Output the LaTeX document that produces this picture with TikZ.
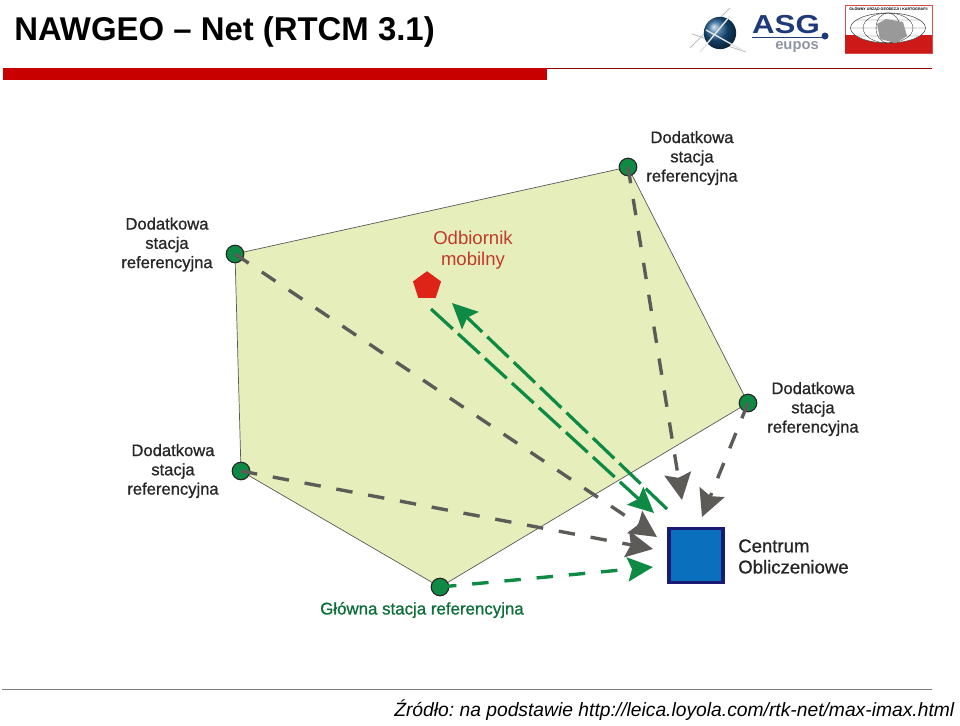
\documentclass[tikz,border=0pt]{standalone}
\usepackage{fontspec}
\usetikzlibrary{positioning,arrows.meta,shapes.geometric}
\setmainfont{Liberation Sans}
\newfontfamily\lblfont[FakeBold=0.9]{Liberation Sans}
\definecolor{areagreen}{HTML}{E6EFBC}
\definecolor{stagreen}{HTML}{0F8A45}
\definecolor{dashgray}{HTML}{5C5B58}
\definecolor{barred}{HTML}{C80000}
\definecolor{boxblue}{HTML}{0A70BE}
\definecolor{boxnavy}{HTML}{1B1A73}
\definecolor{oddred}{HTML}{C23A2A}
\definecolor{rovred}{HTML}{DE2318}
\definecolor{asgnavy}{HTML}{1F3A78}

\begin{document}
\begin{tikzpicture}[
  x=0.025cm, y=-0.025cm,
  >=Stealth,
  sta/.style={circle, draw=black!85, fill=stagreen, line width=0.8pt,
              minimum size=12.5pt, inner sep=0pt},
  lbl/.style={align=center, font=\lblfont\fontsize{11.8}{13.7}\selectfont, text=black!85},
  gr/.style={dashgray, line width=2.4pt, dash pattern=on 11.7pt off 11.3pt,
             arrows={-Stealth[length=19pt,width=19pt,inset=3pt]}},
  grn/.style={stagreen, line width=2.4pt, dash pattern=on 11.7pt off 11.3pt,
              arrows={-Stealth[length=18pt,width=17pt,inset=3pt]}},
  grl/.style={stagreen, line width=2.3pt, dash pattern=on 21pt off 5pt,
              arrows={-Stealth[length=18pt,width=17pt,inset=3pt]}},
]
  \useasboundingbox (0,0) rectangle (960,725);

  % header
  \node[anchor=base west, inner sep=0pt, font=\bfseries\fontsize{23.4}{28}\selectfont] (title)
        at (14,40) {NAWGEO -- Net (RTCM 3.1)};
  \fill[barred] (3,68) rectangle (547,80);
  \draw[barred!70!black, line width=0.7pt] (547,68) -- (932,68);

  % ASG logo
  \draw[gray!50, line width=0.6pt] (690,48) -- (730,8) (692,34) -- (746,52);
  \node[circle, inner sep=0pt, minimum size=23pt, ball color=asgnavy!85!cyan] (globe) at (720,33) {};
  \draw[white!80!gray, line width=1pt] (700,52) -- (730,16) (706,30) -- (742,50);
  \node[anchor=base, inner sep=0pt, xscale=1.2, text=asgnavy, font=\bfseries\fontsize{18.5}{20}\selectfont] (asg)
        at (786,33) {ASG};
  \draw[asgnavy, line width=0.7pt] (752,37) -- (824,37);
  \fill[asgnavy] (825,36) circle (3.5);
  \node[anchor=base, inner sep=0pt, text=asgnavy!35!gray!70, font=\bfseries\fontsize{10.5}{11}\selectfont] (eup)
        at (797,49) {eupos};

  % GUGiK logo
  \draw[barred!70, fill=white, line width=0.5pt] (845,5) rectangle (932,53);
  \fill[barred!90!white] (845,35) rectangle (932,53);
  \node[inner sep=0pt, font=\bfseries\fontsize{2.6}{3}\selectfont] (gug) at (888.5,9.5)
        {GŁÓWNY URZĄD GEODEZJI I KARTOGRAFII};
  \draw[black!70, fill=white, line width=0.4pt] (888,28) ellipse (37.5 and 15);
  \draw[black!70, line width=0.3pt] (888,28) ellipse (25 and 15) (888,28) ellipse (12 and 15)
        (850.5,28) -- (925.5,28) (856,20) -- (920,20) (856,36) -- (920,36);
  \fill[gray!80] (877,24) -- (886,19) -- (903,22) -- (907,36) -- (896,43) -- (880,39) -- cycle;

  % polygon and stations
  \coordinate (p1) at (628,167);
  \coordinate (p2) at (235,254);
  \coordinate (p3) at (241,471);
  \coordinate (p4) at (440,587);
  \coordinate (p5) at (748,403);
  \draw[fill=areagreen, draw=gray!70!black, line width=0.5pt] (p1) -- (p5) -- (p4) -- (p3) -- (p2) -- cycle;
  \node[sta] (s1) at (p1) {};
  \node[sta] (s2) at (p2) {};
  \node[sta] (s3) at (p3) {};
  \node[sta] (s4) at (p4) {};
  \node[sta] (s5) at (p5) {};

  % computing centre
  \node[draw=boxnavy, fill=boxblue, line width=2.6pt, minimum size=38.5pt, inner sep=0pt] (cent)
        at (696,555.5) {};

  % arrow ends
  \coordinate (e1) at (682,500);
  \coordinate (e2) at (657,537);
  \coordinate (e3) at (653,549);
  \coordinate (e4) at (653,567);
  \coordinate (e5) at (702,517);
  \coordinate (e6) at (654,513);
  \coordinate (e7) at (667,509);
  \coordinate (e8) at (452,303);
  \coordinate (e9) at (431,309);

  \draw[gr] (p1) -- (e1);
  \draw[gr] (p2) -- (e2);
  \draw[gr] (p3) -- (e3);
  \draw[gr] (p5) -- (e5);
  \draw[grn] (p4) -- (e4);
  \draw[grl] (e9) -- (e6);
  \draw[grl] (e7) -- (e8);

  % rover
  \node[regular polygon, regular polygon sides=5, fill=rovred, minimum size=21pt, inner sep=0pt] (rov)
        at (427,286) {};
  \node[align=center, text=oddred, font=\fontsize{13.2}{15}\selectfont] (rovl) at (473,250) {Odbiornik\\mobilny};

  % labels
  \node[lbl] (l1) at (692,158) {Dodatkowa\\stacja\\referencyjna};
  \node[lbl] (l2) at (167,244.5) {Dodatkowa\\stacja\\referencyjna};
  \node[lbl] (l3) at (173,471) {Dodatkowa\\stacja\\referencyjna};
  \node[lbl] (l5) at (813,409) {Dodatkowa\\stacja\\referencyjna};
  \node[lbl, align=left, anchor=west, inner sep=0pt, font=\lblfont\fontsize{13.2}{15}\selectfont] (lc)
        at (738,556.5) {Centrum\\Obliczeniowe};
  \node[lbl, text=stagreen!80!black, inner sep=0pt, font=\lblfont\fontsize{12}{14}\selectfont] (l4)
        at (422,610) {Główna stacja referencyjna};

  % footer
  \draw[gray, line width=0.7pt] (2,689) -- (932,689);
  \node[anchor=base west, inner sep=0pt, font=\itshape\fontsize{13.7}{16}\selectfont] (src) at (394,716)
        {\frenchspacing Źródło: na podstawie http://leica.loyola.com/rtk-net/max-imax.html};
\end{tikzpicture}
\end{document}
